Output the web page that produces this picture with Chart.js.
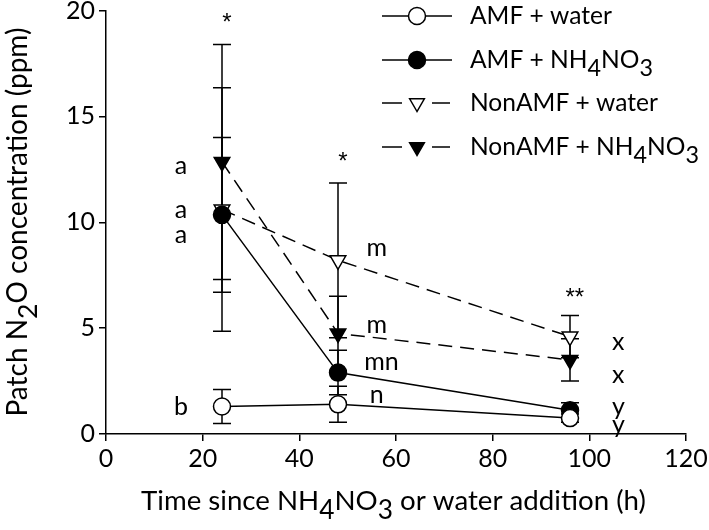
<!DOCTYPE html>
<html>
<head>
<meta charset="utf-8">
<script src="https://cdn.jsdelivr.net/npm/chart.js@4.4.1/dist/chart.umd.min.js"></script>
<style>
  body { margin: 0; background: #fff; }
  #wrap { width: 709px; height: 530px; }
</style>
</head>
<body>
<div id="wrap"><canvas id="n2oChart" width="709" height="530"></canvas></div>
<script>
// Hours after addition
const hours = [24, 48, 96];

// Series means and error (SE)
const amfWater = [1.3, 1.4, 0.75];
const amfWaterErr = [0.8, 0.85, 0.2];
const amfNH4 = [10.35, 2.9, 1.12];
const amfNH4Err = [3.65, 1.05, 0.35];
const nonWater = [10.6, 8.2, 4.6];
const nonWaterErr = [5.75, 3.65, 1.0];
const nonNH4 = [12.85, 4.75, 3.5];
const nonNH4Err = [5.55, 1.75, 1.0];

const xTicks = [0, 20, 40, 60, 80, 100, 120];
const yTicks = [0, 5, 10, 15, 20];

// significance letters / stars, in data coordinates
const notes = [
    { text: '*', x: 25, y: 19.6 },
    { text: '*', x: 49, y: 13.0 },
    { text: '**', x: 97, y: 6.6 },
    { text: 'a', x: 15.5, y: 12.65 },
    { text: 'a', x: 15.5, y: 10.6 },
    { text: 'a', x: 15.5, y: 9.4 },
    { text: 'b', x: 15.5, y: 1.3 },
    { text: 'm', x: 56, y: 8.8 },
    { text: 'm', x: 56, y: 5.15 },
    { text: 'mn', x: 57, y: 3.4 },
    { text: 'n', x: 56, y: 1.85 },
    { text: 'x', x: 106, y: 4.35 },
    { text: 'x', x: 106, y: 2.8 },
    { text: 'y', x: 106, y: 1.3 },
    { text: 'y', x: 106, y: 0.45 }
];

const FONT = 'Lato, "Open Sans", sans-serif';
const DASH = [14, 8];

const series = [
    { label: [['AMF + water']], data: amfWater, err: amfWaterErr, fill: '#fff', style: 'circle', dash: [] },
    { label: [['AMF + NH'], ['4', true], ['NO'], ['3', true]], data: amfNH4, err: amfNH4Err, fill: '#000', style: 'circle', dash: [] },
    { label: [['NonAMF + water']], data: nonWater, err: nonWaterErr, fill: '#fff', style: 'triangle', dash: DASH },
    { label: [['NonAMF + NH'], ['4', true], ['NO'], ['3', true]], data: nonNH4, err: nonNH4Err, fill: '#000', style: 'triangle', dash: DASH }
];

// draw text with subscript pieces
function drawRich(ctx, parts, x, y, size) {
    let cx = x;
    parts.forEach(p => {
        const sub = p[1];
        ctx.font = (sub ? size * 0.95 : size) + 'px ' + FONT;
        ctx.fillText(p[0], cx, sub ? y + size * 0.36 : y);
        cx += ctx.measureText(p[0]).width;
    });
    return cx - x;
}

function richWidth(ctx, parts, size) {
    let w = 0;
    parts.forEach(p => {
        ctx.font = (p[1] ? size * 0.95 : size) + 'px ' + FONT;
        w += ctx.measureText(p[0]).width;
    });
    return w;
}

// font size so that the text spans roughly the same width as in the figure
function fitSize(ctx, parts, target) {
    return 20 * target / richWidth(ctx, parts, 20);
}

function drawMarker(ctx, s, x, y) {
    ctx.save();
    ctx.fillStyle = s.fill;
    ctx.strokeStyle = '#000';
    ctx.lineWidth = 1.5;
    ctx.setLineDash([]);
    ctx.beginPath();
    if (s.style === 'circle') {
        ctx.arc(x, y, 8.5, 0, Math.PI * 2);
    } else {
        const r = 8.5;
        ctx.moveTo(x, y + r);
        ctx.lineTo(x - r * 0.866, y - r * 0.5);
        ctx.lineTo(x + r * 0.866, y - r * 0.5);
        ctx.closePath();
    }
    ctx.fill();
    ctx.stroke();
    ctx.restore();
}

const overlay = {
    id: 'overlay',
    beforeDatasetsDraw(chart) {
        const ctx = chart.ctx;
        const xs = chart.scales.x, ys = chart.scales.y;
        ctx.save();
        ctx.strokeStyle = '#000';
        ctx.lineWidth = 1.5;
        series.forEach(s => {
            s.data.forEach((v, j) => {
                const x = xs.getPixelForValue(hours[j]);
                const yt = ys.getPixelForValue(v + s.err[j]);
                const yb = ys.getPixelForValue(v - s.err[j]);
                ctx.beginPath();
                ctx.moveTo(x, yt); ctx.lineTo(x, yb);
                ctx.moveTo(x - 9, yt); ctx.lineTo(x + 9, yt);
                ctx.moveTo(x - 9, yb); ctx.lineTo(x + 9, yb);
                ctx.stroke();
            });
        });
        ctx.restore();
    },
    afterDraw(chart) {
        const ctx = chart.ctx;
        const xs = chart.scales.x, ys = chart.scales.y;
        ctx.save();
        ctx.fillStyle = '#000';
        ctx.textBaseline = 'middle';

        // significance letters
        ctx.textAlign = 'center';
        notes.forEach(n => {
            const star = n.text.indexOf('*') >= 0;
            ctx.font = star ? '24px "Liberation Sans", sans-serif' : '25px ' + FONT;
            ctx.fillText(n.text, xs.getPixelForValue(n.x), ys.getPixelForValue(n.y) + (star ? 4 : 0));
        });

        // legend
        ctx.textAlign = 'left';
        const rows = [16, 60, 103, 147];
        const legSize = fitSize(ctx, series[0].label, 142);
        series.forEach((s, i) => {
            const y = rows[i];
            ctx.save();
            ctx.strokeStyle = '#000';
            ctx.lineWidth = 1.5;
            ctx.beginPath();
            if (s.dash.length) {
                ctx.moveTo(382, y); ctx.lineTo(402, y);
                ctx.moveTo(432, y); ctx.lineTo(450, y);
            } else {
                ctx.moveTo(382, y); ctx.lineTo(452, y);
            }
            ctx.stroke();
            ctx.restore();
            drawMarker(ctx, s, 417, y);
            drawRich(ctx, s.label, 470, y, legSize);
        });

        // axis titles
        const xt = [['Time since NH'], ['4', true], ['NO'], ['3', true], [' or water addition (h)']];
        const xSize = fitSize(ctx, xt, 505);
        drawRich(ctx, xt, 141, 501, xSize);

        const yt = [['Patch N'], ['2', true], ['O concentration (ppm)']];
        const ySize = fitSize(ctx, yt, 389);
        ctx.translate(18, 222);
        ctx.rotate(-Math.PI / 2);
        drawRich(ctx, yt, -389 / 2, 0, ySize);
        ctx.restore();
    }
};

const datasets = series.map(s => ({
    label: s.label.map(p => p[0]).join(''),
    data: s.data.map((v, j) => ({ x: hours[j], y: v })),
    borderColor: '#000',
    borderWidth: 1.5,
    borderDash: s.dash,
    backgroundColor: s.fill,
    pointBackgroundColor: s.fill,
    pointBorderColor: '#000',
    pointBorderWidth: 1.5,
    pointStyle: s.style,
    pointRotation: s.style === 'triangle' ? 180 : 0,
    pointRadius: s.style === 'triangle' ? 9 : 8.5,
    tension: 0,
    fill: false
}));

new Chart(document.getElementById('n2oChart'), {
    type: 'line',
    data: { datasets: datasets },
    plugins: [overlay],
    options: {
        responsive: false,
        animation: false,
        events: [],
        layout: { padding: { top: 10, right: 23, left: 0, bottom: 0 } },
        plugins: { legend: { display: false }, tooltip: { enabled: false } },
        scales: {
            x: {
                type: 'linear',
                min: 0, max: 120,
                afterBuildTicks: sc => { sc.ticks = xTicks.map(v => ({ value: v })); },
                afterFit: sc => { sc.height = 96; sc.paddingLeft = 0; sc.paddingRight = 0; },
                border: { color: '#000', width: 1.5 },
                grid: { drawOnChartArea: false, drawTicks: true, tickLength: 7, color: '#000', lineWidth: 1.5 },
                ticks: { color: '#000', font: { family: FONT, size: 25 }, padding: 3, maxRotation: 0 }
            },
            y: {
                type: 'linear',
                min: 0, max: 20,
                afterBuildTicks: sc => { sc.ticks = yTicks.map(v => ({ value: v })); },
                afterFit: sc => { sc.width = 106; sc.paddingTop = 0; sc.paddingBottom = 0; },
                border: { color: '#000', width: 1.5 },
                grid: { drawOnChartArea: false, drawTicks: true, tickLength: 7, color: '#000', lineWidth: 1.5 },
                ticks: { color: '#000', font: { family: FONT, size: 25 }, padding: 4 }
            }
        }
    }
});
</script>
</body>
</html>
